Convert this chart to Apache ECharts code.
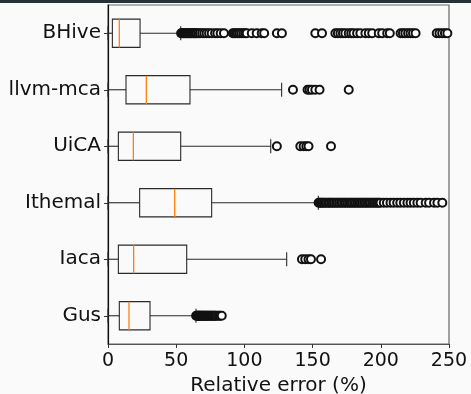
<!DOCTYPE html>
<html>
<head>
<meta charset="utf-8">
<script src="https://cdn.jsdelivr.net/npm/echarts@6/dist/echarts.min.js"></script>
<style>
  html, body { margin: 0; padding: 0; background: #fafafa; overflow: hidden; }
  #chart { width: 471px; height: 394px; }
</style>
</head>
<body>
<div id="chart"></div>
<script>
// 类别（自上而下）
const categories = ['BHive', 'llvm-mca', 'UiCA', 'Ithemal', 'Iaca', 'Gus'];
// 箱线统计: [下须, Q1, 中位数, Q3, 上须]
const boxStats = [
    [0, 3.2, 8.3, 23.5, 53.3],
    [0, 13.2, 28.1, 60.1, 127.3],
    [0, 7.6, 18.6, 53.3, 119.3],
    [0, 23.2, 48.9, 76.0, 154.2],
    [0, 7.6, 18.8, 57.7, 131.0],
    [0, 8.3, 15.4, 30.8, 64.5]
];
// 离群点
const outBHive = [53.6, 54.2, 55, 55.7, 56.5, 57.4, 58.1, 59, 59.8, 60.7, 61.5, 62.4, 63.3, 64.1, 65,
    66.2, 67.4, 69, 70.6, 72.3, 74.1, 76, 78.5, 80.2, 82.6, 85,
    91.5, 92.6, 93.8, 95.1, 96.4, 97.7, 99.2, 100.5, 101.7, 105.4, 109, 112.7, 114.5,
    123.8, 127.5, 152, 156.9,
    166.7, 168.5, 170.4, 172.2, 174, 176.5, 178.3, 180, 182.6, 185, 188.7, 191.2, 193.7, 198.5, 201, 204.7, 206.6,
    214.5, 216.2, 218, 220, 221.8, 223.6, 225.5, 241, 243, 245, 247, 248.8];
const outLlvm = [135.6, 146.3, 147.8, 149.5, 152, 155.1, 176.5];
const outUica = [123.8, 141, 143.4, 145.4, 147, 163.5];
const outIthemal = [154.4, 155.3, 156.1, 157, 158.2, 159.1, 160.3, 161.5, 162.4, 163.6, 164.8, 165.9, 167.2, 168.3,
    169.5, 170.8, 171.9, 173.2, 174.3, 175.6, 176.8, 178, 179.1, 180.4, 181.6, 182.9, 184, 185.3, 186.4,
    187.7, 188.9, 190.1, 191.3, 192.5, 193.8, 195, 196.3, 197.4, 198.6, 199.8, 202.2, 204.5, 207.1, 209.4,
    212, 214.3, 216.9, 219.5, 221.8, 224.2, 226.8, 229.2, 232.9, 235.4, 239, 241.5, 245.1];
const outIaca = [142.2, 144.6, 147, 148.8, 156.2];
const outGus = [64.6, 65.1, 65.7, 66.2, 66.8, 67.3, 67.9, 68.6, 69.2, 69.8, 70.5, 71.1, 71.8, 72.4, 73.1,
    73.8, 74.4, 75.2, 75.9, 76.6, 77.4, 78.1, 78.9, 79.8, 81.2, 82.1, 83.4];
const outliers = [outBHive, outLlvm, outUica, outIthemal, outIaca, outGus];
const xTicks = [0, 50, 100, 150, 200, 250];

const FONT = 'DejaVu Sans';
const chart = echarts.init(document.getElementById('chart'), null, { renderer: 'canvas' });

const boxData = boxStats.map((s, i) => [i].concat(s));
const outData = [];
outliers.forEach((arr, i) => arr.forEach(v => outData.push([v, i])));

function renderBox(params, api) {
    const cat = api.value(0);
    const band = api.size([0, 1])[1];
    const half = band * 0.25, capHalf = band * 0.125;
    const p = k => api.coord([api.value(k), cat]);
    const lo = p(1), q1 = p(2), md = p(3), q3 = p(4), hi = p(5);
    const y = lo[1];
    const ls = { stroke: '#2a2a2a', lineWidth: 1.1, fill: null };
    return {
        type: 'group',
        children: [
            { type: 'line', shape: { x1: lo[0], y1: y, x2: q1[0], y2: y }, style: ls },
            { type: 'line', shape: { x1: q3[0], y1: y, x2: hi[0], y2: y }, style: ls },
            { type: 'line', shape: { x1: lo[0], y1: y - capHalf, x2: lo[0], y2: y + capHalf }, style: ls },
            { type: 'line', shape: { x1: hi[0], y1: y - capHalf, x2: hi[0], y2: y + capHalf }, style: ls },
            { type: 'rect', shape: { x: q1[0], y: y - half, width: q3[0] - q1[0], height: half * 2 }, style: ls },
            { type: 'line', shape: { x1: md[0], y1: y - half, x2: md[0], y2: y + half },
              style: { stroke: '#ff7f0e', lineWidth: 1.3 } }
        ]
    };
}

chart.setOption({
    backgroundColor: '#fafafa',
    animation: false,
    graphic: [{
        type: 'rect', left: 0, top: 0, shape: { width: 471, height: 3 },
        style: { fill: '#263238' }
    }],
    grid: {
        left: 108, right: 22, top: 5, bottom: 50,
        outerBoundsMode: 'none', containLabel: false,
        show: true, borderColor: '#666', borderWidth: 1.2, backgroundColor: 'transparent'
    },
    xAxis: {
        type: 'value', min: 0, max: 250, interval: 50,
        name: 'Relative error (%)', nameLocation: 'middle', nameGap: 30,
        nameTextStyle: { fontFamily: FONT, fontSize: 20, color: '#111' },
        axisLine: { show: true, lineStyle: { color: '#555', width: 1.2 } },
        axisTick: { show: true, length: 4, lineStyle: { color: '#333' } },
        axisLabel: {
            fontFamily: FONT, fontSize: 19, color: '#111', margin: 8,
            formatter: v => xTicks.indexOf(v) >= 0 ? String(v) : ''
        },
        splitLine: { show: false }
    },
    yAxis: {
        type: 'category', data: categories, inverse: true,
        axisLine: { show: true, onZero: false, lineStyle: { color: '#111', width: 1.2 } },
        axisTick: { show: true, alignWithLabel: true, length: 4, lineStyle: { color: '#333' } },
        axisLabel: { fontFamily: FONT, fontSize: 20, color: '#111', margin: 7 },
        splitLine: { show: false }
    },
    series: [
        {
            type: 'custom', renderItem: renderBox, data: boxData,
            encode: { x: [1, 2, 3, 4, 5], y: 0 }, z: 2
        },
        {
            type: 'scatter', data: outData, symbol: 'emptyCircle', symbolSize: 8,
            itemStyle: { color: '#111', borderColor: '#111', borderWidth: 1.2, opacity: 1 }, z: 3
        }
    ]
});
</script>
</body>
</html>
